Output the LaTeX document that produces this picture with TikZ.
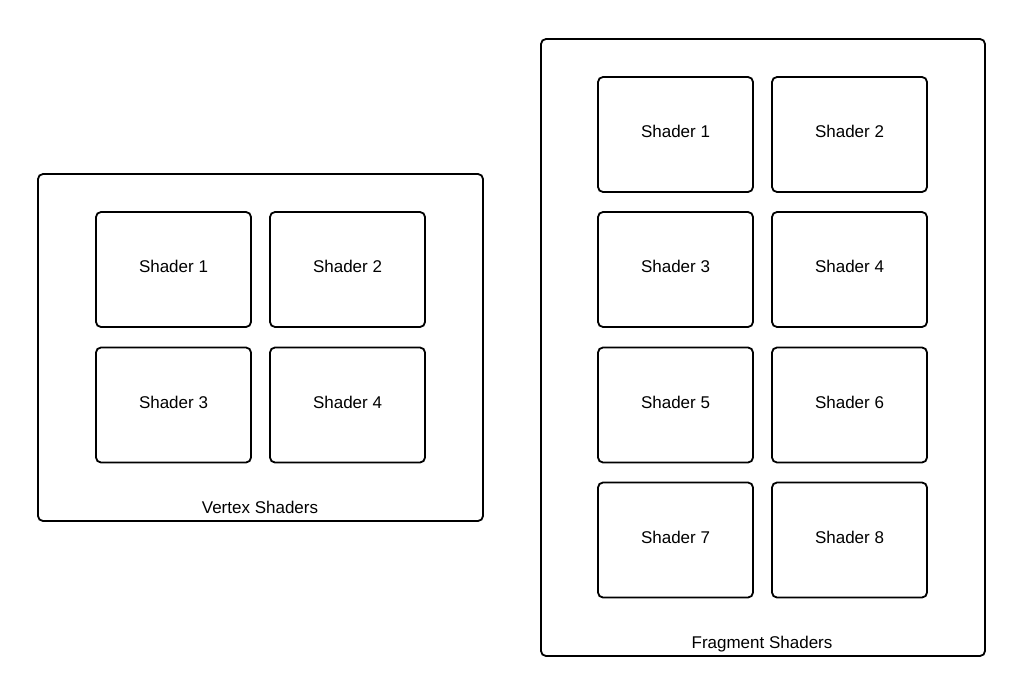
\documentclass[tikz,border=0pt]{standalone}
\usepackage{fontspec}
\setmainfont{Liberation Sans}
\begin{document}
\begin{tikzpicture}[x=1pt,y=-1pt,
  panel/.style={draw=black,line width=1.8pt,rounded corners=5pt,inner sep=0pt},
  shaderbox/.style={draw=black,line width=1.8pt,rounded corners=5pt,inner sep=0pt,minimum width=155pt,minimum height=115pt,text height=12pt,text depth=6pt,font=\fontsize{17}{20}\selectfont},
  caption/.style={inner sep=0pt,text height=12pt,text depth=0pt,font=\fontsize{17}{20}\selectfont}]
\useasboundingbox (0,0) rectangle (1024,695);
% Vertex panel
\node[panel,minimum width=445pt,minimum height=347pt] (vp) at (260.5,347.5) {};
\node[shaderbox] (v1) at (173.5,269.5) {Shader 1};
\node[shaderbox] (v2) at (347.5,269.5) {Shader 2};
\node[shaderbox] (v3) at (173.5,405) {Shader 3};
\node[shaderbox] (v4) at (347.5,405) {Shader 4};
\node[caption] (vl) at (260,507) {Vertex Shaders};
% Fragment panel
\node[panel,minimum width=444pt,minimum height=617pt] (fp) at (763,347.5) {};
\node[shaderbox] (f1) at (675.5,134.5) {Shader 1};
\node[shaderbox] (f2) at (849.5,134.5) {Shader 2};
\node[shaderbox] (f3) at (675.5,269.5) {Shader 3};
\node[shaderbox] (f4) at (849.5,269.5) {Shader 4};
\node[shaderbox] (f5) at (675.5,405) {Shader 5};
\node[shaderbox] (f6) at (849.5,405) {Shader 6};
\node[shaderbox] (f7) at (675.5,540) {Shader 7};
\node[shaderbox] (f8) at (849.5,540) {Shader 8};
\node[caption] (fl) at (762,642) {Fragment Shaders};
\end{tikzpicture}
\end{document}
